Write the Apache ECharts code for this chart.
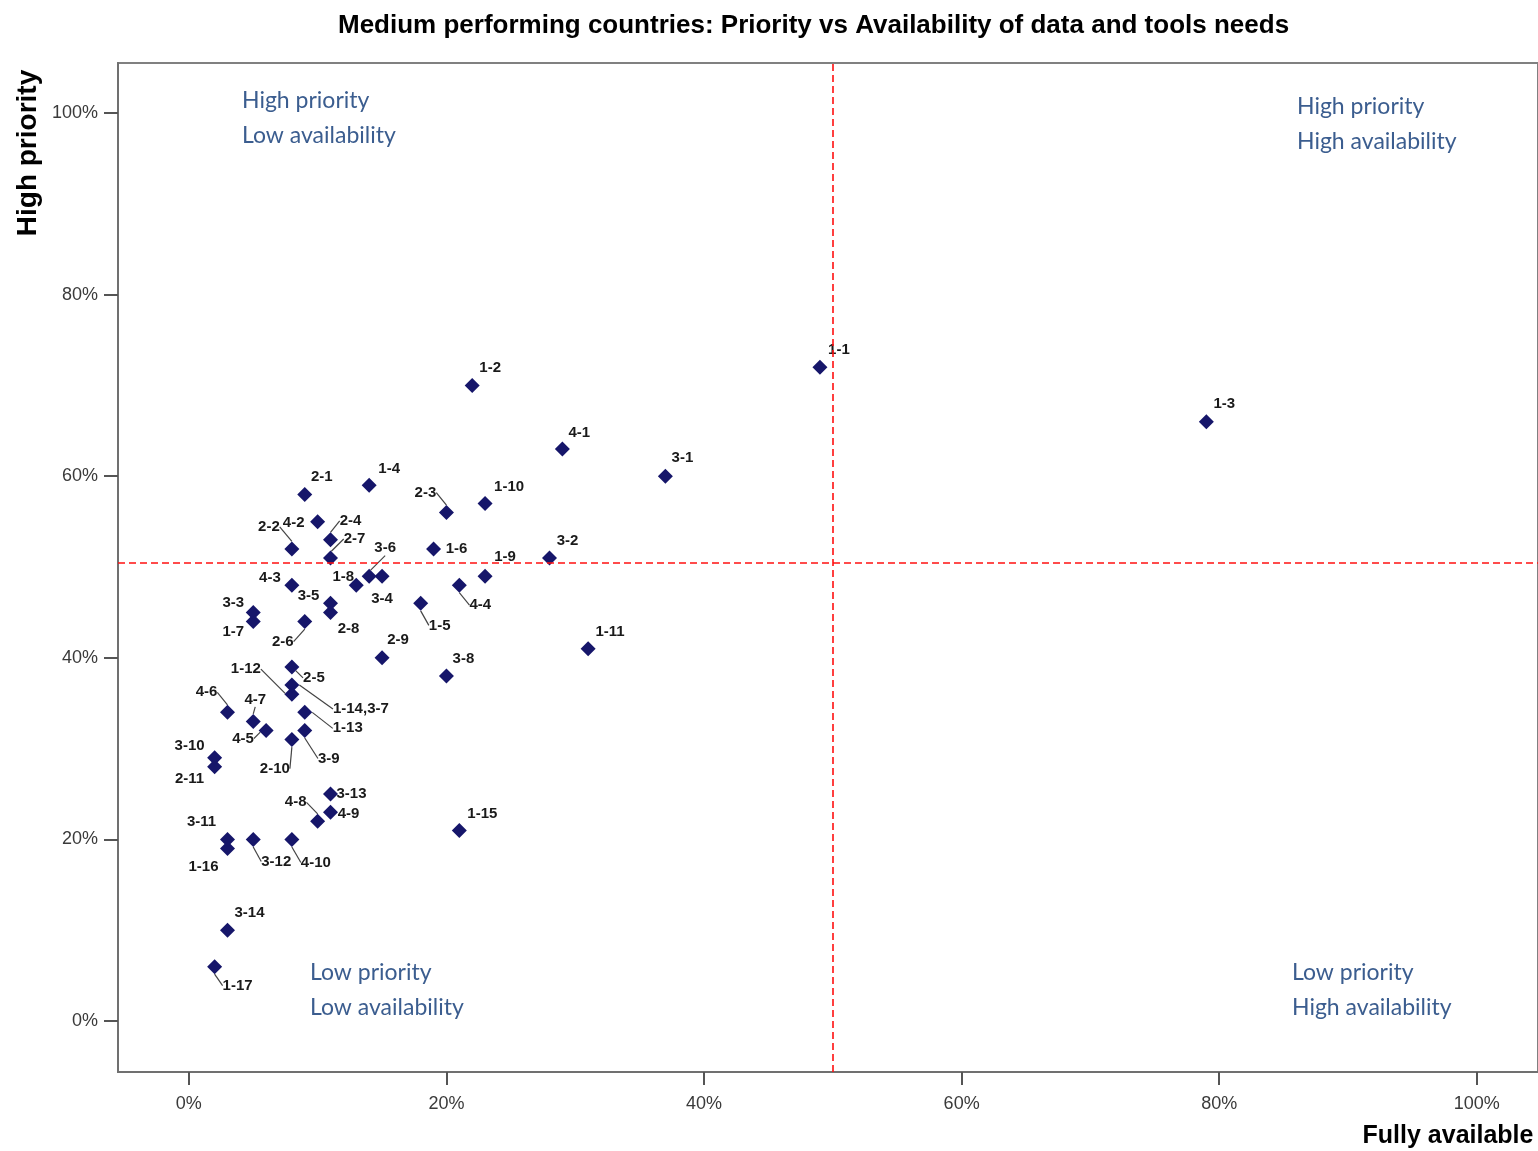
<!DOCTYPE html>
<html>
<head>
<meta charset="utf-8">
<script src="https://cdn.jsdelivr.net/npm/echarts@6/dist/echarts.min.js"></script>
<style>
html,body{margin:0;padding:0;background:#fff;}
#chart{width:1538px;height:1151px;}
</style>
</head>
<body>
<div id="chart"></div>
<script>
// ---- data ----
const pointNames = ['1-1','1-2','1-3','1-4','1-5','1-6','1-7','1-8','1-9','1-10','1-11','1-12','1-13','1-14,3-7','1-15','1-16','1-17',
  '2-1','2-2','2-3','2-4','2-5','2-6','2-7','2-8','2-9','2-10','2-11',
  '3-1','3-2','3-3','3-4','3-5','3-6','3-8','3-9','3-10','3-11','3-12','3-13','3-14',
  '4-1','4-2','4-3','4-4','4-5','4-6','4-7','4-8','4-9','4-10'];
const fullyAvailable = [49,22,79,14,18,19,5,13,23,23,31,8,9,8,21,3,2,
  9,8,20,11,8,9,11,11,15,8,2,
  37,28,5,15,11,14,20,9,2,3,5,11,3,
  29,10,8,21,6,3,5,10,11,8];
const highPriority = [72,70,66,59,46,52,44,48,49,57,41,36,34,37,21,19,6,
  58,52,56,53,39,44,51,45,40,31,28,
  60,51,45,49,46,49,38,32,29,20,20,25,10,
  63,55,48,48,32,34,33,22,23,20];
const xTicks = [0,20,40,60,80,100];
const yTicks = [0,20,40,60,80,100];
const availabilityThreshold = 50;
const priorityThreshold = 50.5;
const titleText = 'Medium performing countries: Priority vs Availability of data and tools needs';
const quadrantTexts = [
  ['High priority','Low availability'],
  ['High priority','High availability'],
  ['Low priority','Low availability'],
  ['Low priority','High availability']
];

// ---- label layout (pixel offsets of label centers from the marker) ----
const labelOffsets = {
  '1-1':[19,-17],'1-2':[18,-18],'1-3':[18,-18],'1-4':[20,-16],'1-5':[19,22],'1-6':[23,0],'1-7':[-20,10],
  '1-8':[-13,-8],'1-9':[20,-19],'1-10':[24,-17],'1-11':[22,-17],'1-12':[-46,-25],'1-13':[43,16],
  '1-14,3-7':[69,24],'1-15':[23,-17],'1-16':[-24,18],'1-17':[23,19],
  '2-1':[17,-18],'2-2':[-23,-22],'2-3':[-21,-20],'2-4':[20,-19],'2-5':[22,11],'2-6':[-22,20],'2-7':[24,-19],
  '2-8':[18,16],'2-9':[16,-18],'2-10':[-17,29],'2-11':[-25,12],
  '3-1':[17,-18],'3-2':[18,-17],'3-3':[-20,-10],'3-4':[0,23],'3-5':[-22,-8],'3-6':[16,-28],'3-8':[17,-17],
  '3-9':[24,28],'3-10':[-25,-12],'3-11':[-26,-18],'3-12':[23,22],'3-13':[21,0],'3-14':[22,-17],
  '4-1':[17,-16],'4-2':[-24,1],'4-3':[-22,-7],'4-4':[21,20],'4-5':[-23,8],'4-6':[-21,-20],'4-7':[2,-22],
  '4-8':[-22,-19],'4-9':[18,2],'4-10':[24,23]
};
const leaderLabels = new Set(['2-2','2-3','2-4','2-7','3-6','4-4','1-5','2-6','2-5','1-12','1-14,3-7','1-13',
  '3-9','2-10','4-5','4-7','4-6','3-12','4-10','4-8','1-17']);

const seriesData = pointNames.map((n, i) => ({
  name: n,
  value: [fullyAvailable[i], highPriority[i]],
  labelLine: { show: leaderLabels.has(n) }
}));

const chart = echarts.init(document.getElementById('chart'), null, { renderer: 'canvas' });

const quadStyle = { fontFamily: 'Lato', fontSize: 23, fill: '#3b5d8f' };
function quadText(lines, x, y) {
  return lines.map((t, k) => ({
    type: 'text', left: x, top: y + k * 35 - 10, silent: true,
    style: Object.assign({ text: t }, quadStyle)
  }));
}

const option = {
  backgroundColor: '#ffffff',
  animation: false,
  title: {
    text: titleText,
    left: 338, top: 13, padding: 0,
    textStyle: { fontFamily: 'Liberation Sans', fontSize: 26, fontWeight: 'bold', color: '#000' }
  },
  grid: {
    left: 118, top: 63, right: 0, bottom: 79,
    show: true, borderColor: '#808080', borderWidth: 2, backgroundColor: 'transparent',
    containLabel: false
  },
  xAxis: {
    type: 'value', min: -5.5, max: 104.75,
    splitLine: { show: false },
    axisLine: { show: true, onZero: false, lineStyle: { color: '#707070', width: 2 } },
    axisTick: { show: true, customValues: xTicks, length: 13, lineStyle: { color: '#555', width: 2 } },
    axisLabel: { customValues: xTicks, formatter: v => v + '%', margin: 23,
      fontFamily: 'Liberation Sans', fontSize: 18, color: '#3a3a3a' }
  },
  yAxis: {
    type: 'value', min: -5.6, max: 105.5,
    splitLine: { show: false },
    axisLine: { show: true, onZero: false, lineStyle: { color: '#707070', width: 2 } },
    axisTick: { show: true, customValues: yTicks, length: 14, lineStyle: { color: '#555', width: 2 } },
    axisLabel: { customValues: yTicks, formatter: v => v + '%', margin: 20,
      fontFamily: 'Liberation Sans', fontSize: 18, color: '#3a3a3a' }
  },
  graphic: [
    { type: 'text', x: 28, y: 153, rotation: Math.PI / 2, silent: true,
      style: { text: 'High priority', fontFamily: 'Liberation Sans', fontSize: 28, fontWeight: 'bold',
        fill: '#000', align: 'center', verticalAlign: 'middle' } },
    { type: 'text', x: 1448, y: 1136, silent: true,
      style: { text: 'Fully available', fontFamily: 'Liberation Sans', fontSize: 25, fontWeight: 'bold',
        fill: '#000', align: 'center', verticalAlign: 'middle' } }
  ].concat(quadText(quadrantTexts[0], 242, 99))
   .concat(quadText(quadrantTexts[1], 1297, 105))
   .concat(quadText(quadrantTexts[2], 310, 971))
   .concat(quadText(quadrantTexts[3], 1292, 971)),
  series: [{
    type: 'scatter',
    symbol: 'diamond',
    symbolSize: 15,
    itemStyle: { color: '#16166a', opacity: 1 },
    data: seriesData,
    label: {
      show: true, position: 'inside', formatter: '{b}',
      fontFamily: 'Liberation Sans', fontSize: 15, fontWeight: 'bold', color: '#1a1a1a'
    },
    labelLine: { show: false, lineStyle: { color: '#444', width: 1.2 } },
    labelLayout: function (p) {
      const o = labelOffsets[pointNames[p.dataIndex]] || [18, -18];
      return { dx: o[0], dy: o[1] };
    },
    markLine: {
      silent: true, symbol: 'none', label: { show: false },
      lineStyle: { color: '#ff1010', type: [7, 4], width: 1.6, opacity: 1 },
      data: [{ xAxis: availabilityThreshold }, { yAxis: priorityThreshold }]
    },
    z: 3
  }]
};
chart.setOption(option);
</script>
</body>
</html>
